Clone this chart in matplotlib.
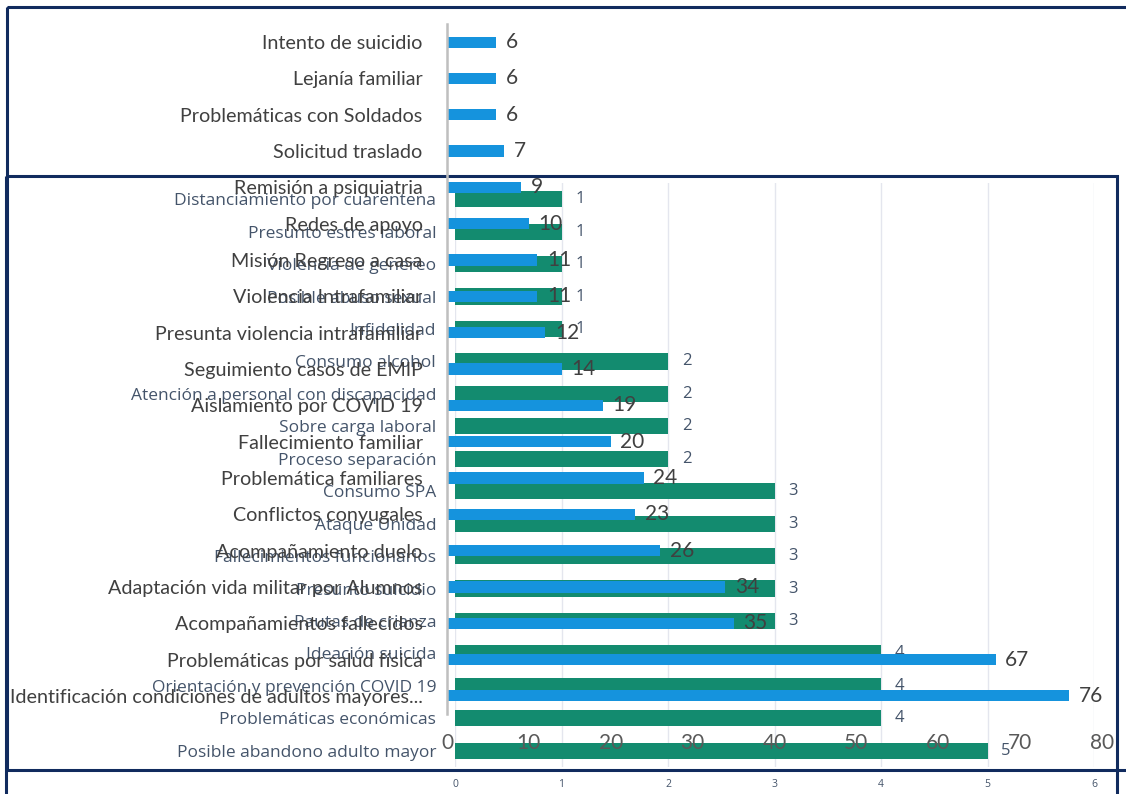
import matplotlib
matplotlib.use("Agg")
import matplotlib.pyplot as plt
from matplotlib.patches import Rectangle

# serie azul (grafico superior)
blue_cats = ["Intento de suicidio", "Lejanía familiar", "Problemáticas con Soldados",
             "Solicitud traslado", "Remisión a psiquiatria", "Redes de apoyo",
             "Misión Regreso a casa", "Violencia Intrafamiliar",
             "Presunta violencia intrafamiliar", "Seguimiento casos de EMIP",
             "Aislamiento por COVID 19", "Fallecimiento familiar",
             "Problemática familiares", "Conflictos conyugales", "Acompañamiento duelo",
             "Adaptación vida militar por Alumnos", "Acompañamientos fallecidos",
             "Problemáticas por salud física",
             "Identificación condiciones de adultos mayores..."]
blue_vals = [6, 6, 6, 7, 9, 10, 11, 11, 12, 14, 19, 20, 24, 23, 26, 34, 35, 67, 76]
blue_ticks = [0, 10, 20, 30, 40, 50, 60, 70, 80]

# serie verde (grafico de fondo)
green_cats = ["Distanciamiento por cuarentena", "Presunto estres laboral",
              "Violencia de genereo", "Posible abuso sexual", "Infidelidad",
              "Consumo alcohol", "Atención a personal con discapacidad",
              "Sobre carga laboral", "Proceso separación", "Consumo SPA",
              "Ataque Unidad", "Fallecimientos funcionarios", "Presunto suicidio",
              "Pautas de crianza", "Ideación suicida",
              "Orientación y prevención COVID 19", "Problemáticas económicas",
              "Posible abandono adulto mayor"]
green_vals = [1, 1, 1, 1, 1, 2, 2, 2, 2, 3, 3, 3, 3, 3, 4, 4, 4, 5]
green_ticks = [0, 1, 2, 3, 4, 5, 6]

W, H = 1126, 794
fig = plt.figure(figsize=(W / 100, H / 100), dpi=100)
fig.patch.set_facecolor("white")

BLUE_FONT = ["Lato", "DejaVu Sans"]
GREEN_FONT = ["Open Sans", "DejaVu Sans"]
NAVY = "#112B5E"


def px_axes(x0, y0, x1, y1, **kw):
    return fig.add_axes([x0 / W, 1 - y1 / H, (x1 - x0) / W, (y1 - y0) / H], **kw)


# --- grafico verde ---
axg = px_axes(455, 183, 1094, 767, zorder=1)
axg.barh(range(len(green_cats)), green_vals, height=0.5, color="#138B6F", zorder=2)
axg.set_xlim(0, 6)
axg.set_ylim(len(green_cats) - 0.5, -0.5)
axg.set_xticks(green_ticks)
axg.set_yticks(range(len(green_cats)))
axg.set_yticklabels(green_cats, fontsize=12.5, color="#44546A", family=GREEN_FONT)
axg.set_xticklabels([str(t) for t in green_ticks], fontsize=7.5, color="#44546A",
                    family=GREEN_FONT)
axg.tick_params(axis="y", length=0, pad=13.5)
axg.tick_params(axis="x", length=0, pad=8.5)
axg.grid(axis="x", color="#E4E6EE", lw=1, zorder=0)
axg.set_axisbelow(True)
for s in axg.spines.values():
    s.set_visible(False)
for i, v in enumerate(green_vals):
    axg.annotate(str(v), (v, i), xytext=(10, 0), textcoords="offset points",
                 va="center", ha="left", fontsize=12, color="#44546A",
                 family=GREEN_FONT, annotation_clip=False)

# --- marcos ---
axf = fig.add_axes([0, 0, 1, 1], zorder=2)
axf.set_xlim(0, W)
axf.set_ylim(H, 0)
axf.axis("off")
axf.patch.set_alpha(0)
axf.add_patch(Rectangle((7, 7), 1200, 763, fill=False, ec=NAVY, lw=2.2))
axf.add_patch(Rectangle((6, 176), 1111, 700, fill=False, ec=NAVY, lw=2.2))

# --- grafico azul ---
axb = px_axes(447, 24, 1102, 714, zorder=3)
axb.patch.set_alpha(0)
axb.barh(range(len(blue_cats)), blue_vals, height=0.31, color="#1593DD", zorder=2)
axb.set_xlim(0, 80)
axb.set_ylim(len(blue_cats) - 0.5, -0.5)
axb.set_xticks(blue_ticks)
axb.set_xticklabels([str(t) for t in blue_ticks], fontsize=15, color="#595959",
                    family=BLUE_FONT)
axb.set_yticks(range(len(blue_cats)))
axb.set_yticklabels(blue_cats, fontsize=14.2, color="#404040", family=BLUE_FONT)
axb.tick_params(axis="y", length=0, pad=17.5)
axb.tick_params(axis="x", length=0, pad=14)
for k in ["top", "right", "bottom"]:
    axb.spines[k].set_visible(False)
axb.spines["left"].set_color("#BFBFBF")
axb.spines["left"].set_linewidth(1.8)
for i, v in enumerate(blue_vals):
    axb.annotate(str(v), (v, i), xytext=(7, 0), textcoords="offset points",
                 va="center", ha="left", fontsize=15, color="#404040",
                 family=BLUE_FONT, annotation_clip=False)

fig.savefig("out.png", dpi=100)
